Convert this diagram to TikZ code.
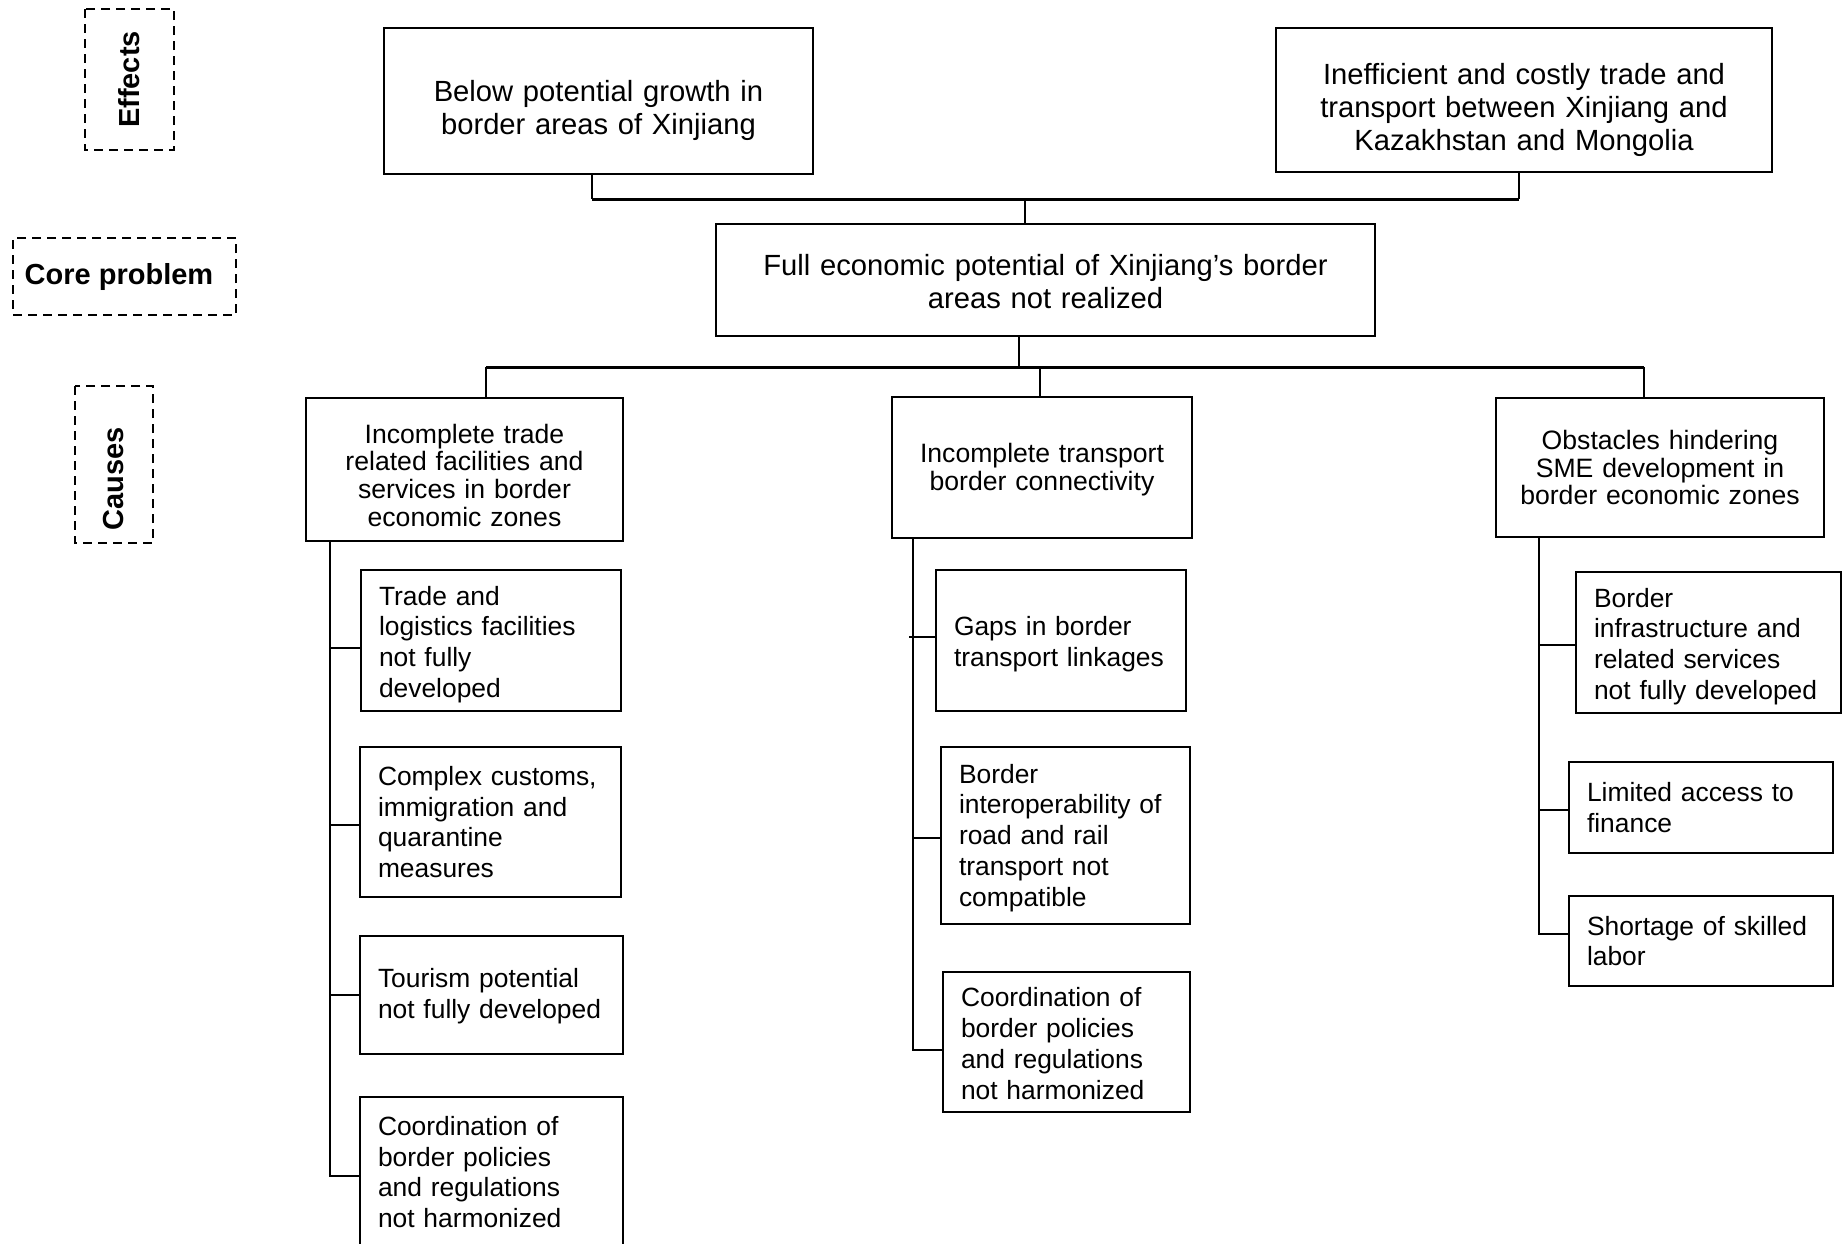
\documentclass[tikz,border=0pt]{standalone}
\usepackage{fontspec}
\setmainfont{Liberation Sans}
\tikzset{
  topbox/.style={draw, line width=0.7pt, align=center, inner sep=0pt, font=\fontsize{14.6}{16.5}\selectfont},
  causebox/.style={draw, line width=0.7pt, align=center, inner sep=0pt, font=\fontsize{13.3}{13.8}\selectfont},
  subbox/.style={draw, line width=0.7pt, align=left, inner xsep=9pt, inner ysep=0pt, font=\fontsize{13.2}{15.4}\selectfont},
  tagbox/.style={draw, dash pattern=on 4.5pt off 3pt, line width=1pt, inner sep=0pt, font=\bfseries\fontsize{14.5}{16}\selectfont},
  push/.style={execute at begin node={\rule{0pt}{#1}}},
  bus/.style={line width=1.5pt},
  drop/.style={line width=0.6pt},
  spine/.style={line width=1.3pt},
  tick/.style={line width=0.8pt},
}
\begin{document}
\begin{tikzpicture}[x=0.5pt,y=0.5pt,yscale=-1,xscale=1]
\useasboundingbox (0,0) rectangle (1842,1243);
\clip (0,0) rectangle (1842,1243);
% Tag Nodes
\node[tagbox, rotate=90, minimum width=70.5pt, minimum height=44.5pt] (effects) at (129.5,79.5) {Effects};
\node[tagbox, minimum width=111.5pt, minimum height=38.5pt] (coretag) at (124.5,276.5) {Core problem\kern5.5pt};
\node[tagbox, rotate=90, minimum width=78.5pt, minimum height=39pt] (causes) at (114,464.5) {Causes\kern14pt};
% Text Node
\node[topbox, push=19.6pt, text width=214.5pt, minimum height=73pt] (eff1) at (598.5,101) {Below potential growth in\\border areas of Xinjiang};
% Text Node
\node[topbox, push=20.6pt, text width=248pt, minimum height=72pt] (eff2) at (1524,100) {Inefficient and costly trade and\\transport between Xinjiang and\\Kazakhstan and Mongolia};
% Text Node
\node[topbox, push=12.4pt, text width=329.5pt, minimum height=56pt] (core) at (1045.5,280) {Full economic potential of Xinjiang’s border\\areas not realized};
% Text Node
\node[causebox, push=15.3pt, text width=158.5pt, minimum height=71.5pt] (cause1) at (464.5,469.5) {Incomplete trade\\related facilities and\\services in border\\economic zones};
\node[causebox, push=11.7pt, text width=150pt, minimum height=70.5pt] (cause2) at (1042,467.5) {Incomplete transport\\border connectivity};
\node[causebox, text width=164pt, minimum height=69.5pt] (cause3) at (1660,467.5) {Obstacles hindering\\SME development in\\border economic zones};
% Text Node
\node[subbox, push=13.6pt, text width=112pt, minimum height=70.5pt] (s1) at (491,640.5) {Trade and\\logistics facilities\\not fully\\developed};
\node[subbox, text width=112.5pt, minimum height=75pt] (s2) at (490.5,822) {Complex customs,\\immigration and\\quarantine\\measures};
\node[subbox, push=11pt, text width=113.5pt, minimum height=59pt] (s3) at (491.5,995) {Tourism potential\\not fully developed};
\node[subbox, text width=113.5pt, minimum height=75pt] (s4) at (491.5,1172) {Coordination of\\border policies\\and regulations\\not harmonized};
% Text Node
\node[subbox, push=13.6pt, text width=107pt, minimum height=70.5pt] (g1) at (1061,640.5) {Gaps in border\\transport linkages};
\node[subbox, push=12pt, text width=106.5pt, minimum height=88.5pt] (g2) at (1065.5,835.5) {Border\\interoperability of\\road and rail\\transport not\\compatible};
\node[subbox, push=11pt, text width=105.5pt, minimum height=70pt] (g3) at (1066.5,1042) {Coordination of\\border policies\\and regulations\\not harmonized};
% Text Node
\node[subbox, push=13.6pt, text width=114.5pt, minimum height=70.5pt] (r1) at (1708.5,642.5) {Border\\infrastructure and\\related services\\not fully developed};
\node[subbox, text width=114pt, minimum height=45.5pt] (r2) at (1701,807.5) {Limited access to\\finance};
\node[subbox, text width=114pt, minimum height=45pt] (r3) at (1701,941) {Shortage of skilled\\labor};
%Straight Lines
\coordinate (upbus) at (1025,199);
\coordinate (e1drop) at (592,199);
\coordinate (e2drop) at (1519,199);
\draw[drop] (e1drop |- eff1.south) -- (e1drop);
\draw[drop] (e2drop |- eff2.south) -- (e2drop);
\draw[bus] (e1drop) -- (e2drop);
\draw[drop] (upbus) -- (upbus |- core.north);
%Straight Lines
\coordinate (lowbus) at (1019,367);
\coordinate (c1drop) at (486,367);
\coordinate (c2drop) at (1040,367);
\coordinate (c3drop) at (1644,367);
\draw[drop] (lowbus |- core.south) -- (lowbus);
\draw[bus] (c1drop) -- (c3drop);
\draw[drop] (c1drop) -- (c1drop |- cause1.north);
\draw[drop] (c2drop) -- (c2drop |- cause2.north);
\draw[drop] (c3drop) -- (c3drop |- cause3.north);
%Straight Lines
\coordinate (t11) at (330,648);
\coordinate (t12) at (330,825);
\coordinate (t13) at (330,995);
\coordinate (t14) at (330,1176);
\draw[spine] (t14 |- cause1.south) -- (t14) -- (t14 -| s4.west);
\draw[tick] (t11) -- (t11 -| s1.west);
\draw[tick] (t12) -- (t12 -| s2.west);
\draw[tick] (t13) -- (t13 -| s3.west);
%Straight Lines
\coordinate (t21) at (909,637);
\coordinate (t22) at (913,838);
\coordinate (t23) at (913,1050);
\draw[spine] (t23 |- cause2.south) -- (t23) -- (t23 -| g3.west);
\draw[tick] (t21) -- (t21 -| g1.west);
\draw[tick] (t22) -- (t22 -| g2.west);
%Straight Lines
\coordinate (t31) at (1539,645);
\coordinate (t32) at (1539,810);
\coordinate (t33) at (1539,934);
\draw[spine] (t33 |- cause3.south) -- (t33) -- (t33 -| r3.west);
\draw[tick] (t31) -- (t31 -| r1.west);
\draw[tick] (t32) -- (t32 -| r2.west);
\end{tikzpicture}
\end{document}
